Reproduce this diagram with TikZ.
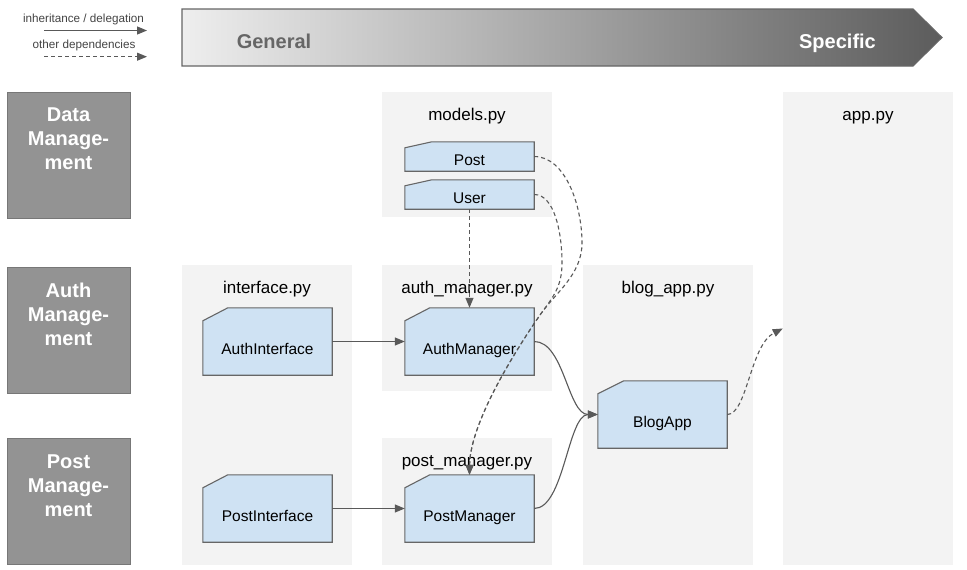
\documentclass[tikz,border=0pt]{standalone}
\usepackage{fontspec}
\setmainfont{Liberation Sans}
\usetikzlibrary{arrows.meta}
\definecolor{clsfill}{HTML}{CFE2F3}
\definecolor{clsline}{HTML}{666666}
\definecolor{panelfill}{HTML}{F3F3F3}
\definecolor{rowfill}{HTML}{939393}
\definecolor{rowline}{HTML}{777777}
\definecolor{conn}{HTML}{595959}
\definecolor{legtext}{HTML}{444444}
\definecolor{bannerL}{HTML}{EEEEEE}
\definecolor{bannerR}{HTML}{5C5C5C}
\newcommand{\clsshape}[3]{% name, cutx, cuty
  \draw[clsborder] (#1.south west) -- (#1.south east) -- (#1.north east)
    -- ([xshift=#2pt]#1.north west) -- ([yshift=-#3pt]#1.north west) -- cycle;}
\begin{document}
\begin{tikzpicture}[x=1pt,y=-1pt,
  panel/.style={fill=panelfill, draw=none, inner sep=0pt},
  paneltitle/.style={anchor=base, inner sep=0pt, font=\fontsize{17}{20}\selectfont},
  rowbox/.style={fill=rowfill, draw=rowline, line width=1pt, minimum width=123pt, minimum height=126pt, inner sep=0pt},
  rowtext/.style={align=center, text=white, inner sep=0pt, font=\bfseries\fontsize{20}{24}\selectfont},
  clsbox/.style={draw=none, fill=none, inner sep=0pt},
  clsborder/.style={fill=clsfill, draw=clsline, line width=1.1pt},
  clstext/.style={anchor=base, inner sep=0pt, font=\fontsize{15.5}{18}\selectfont},
  inh/.style={draw=conn, line width=1.1pt, -{Triangle[length=10pt,width=8pt]}},
  dep/.style={draw=conn, line width=1.1pt, dash pattern=on 4pt off 3pt, -{Triangle[length=10pt,width=8pt]}},
  legtxt/.style={anchor=base, inner sep=0pt, text=legtext, font=\fontsize{11.7}{14}\selectfont}
]
\useasboundingbox (0,0) rectangle (967,570);
\fill[white] (0,0) rectangle (967,570);

% ---------- legend ----------
\node[legtxt] (leginh) at (83.5,22) {inheritance / delegation};
\coordinate (la1) at (44,30.5);
\coordinate (la2) at (147,30.5);
\draw[inh] (la1) -- (la2);
\node[legtxt] (legdep) at (84,48.5) {other dependencies};
\coordinate (lb1) at (44,56.7);
\coordinate (lb2) at (147,56.7);
\draw[dep] (lb1) -- (lb2);

% ---------- banner ----------
\shade[left color=bannerL, right color=bannerR, draw=clsline, line width=1.1pt]
  (182,9) -- (913,9) -- (942,37.5) -- (913,66) -- (182,66) -- cycle;
\node[anchor=base, inner sep=0pt, text=clsline, font=\bfseries\fontsize{20}{24}\selectfont] (gen) at (274,48.3) {General};
\node[anchor=base, inner sep=0pt, text=white, font=\bfseries\fontsize{20}{24}\selectfont] (spec) at (837.5,48.3) {Specific};

% ---------- row labels ----------
\node[rowbox] (rowdata) at (68.5,155) {};
\node[rowtext] at (68.5,139) {Data\\Manage-\\ment};
\node[rowbox] (rowauth) at (68.5,330) {};
\node[rowtext] at (68.5,314) {Auth\\Manage-\\ment};
\node[rowbox] (rowpost) at (68.5,501) {};
\node[rowtext] at (68.5,486) {Post\\Manage-\\ment};

% ---------- panels ----------
\node[panel, minimum width=170pt, minimum height=300pt] (pif) at (267,415) {};
\node[paneltitle] at (267,293) {interface.py};
\node[panel, minimum width=170pt, minimum height=125pt] (pmod) at (467,154.5) {};
\node[paneltitle] at (467,120) {models.py};
\node[panel, minimum width=170pt, minimum height=126pt] (pam) at (467,328) {};
\node[paneltitle] at (467,293) {auth\_manager.py};
\node[panel, minimum width=170pt, minimum height=127pt] (ppm) at (467,501.5) {};
\node[paneltitle] at (467,466) {post\_manager.py};
\node[panel, minimum width=170pt, minimum height=300pt] (pba) at (668,415) {};
\node[paneltitle] at (668,293) {blog\_app.py};
\node[panel, minimum width=170pt, minimum height=473pt] (papp) at (868,328.5) {};
\node[paneltitle] at (868,120) {app.py};

% ---------- classes ----------
\node[clsbox, minimum width=129pt, minimum height=29pt] (post) at (469.5,156.5) {};
\clsshape{post}{27}{6}
\node[clstext] at (469.5,165) {Post};

\node[clsbox, minimum width=129pt, minimum height=29pt] (user) at (469.5,194.5) {};
\clsshape{user}{27}{6}
\node[clstext] at (469.5,203) {User};

\node[clsbox, minimum width=129pt, minimum height=67pt] (ai) at (267.5,341.5) {};
\clsshape{ai}{25}{13}
\node[clstext] at (267.5,354) {AuthInterface};

\node[clsbox, minimum width=129pt, minimum height=67pt] (am) at (469.5,341.5) {};
\clsshape{am}{25}{13}
\node[clstext] at (469.5,354) {AuthManager};

\node[clsbox, minimum width=129pt, minimum height=67pt] (pi) at (267.5,508.5) {};
\clsshape{pi}{25}{13}
\node[clstext] at (267.5,521) {PostInterface};

\node[clsbox, minimum width=129pt, minimum height=67pt] (pm) at (469.5,508.5) {};
\clsshape{pm}{25}{13}
\node[clstext] at (469.5,521) {PostManager};

\node[clsbox, minimum width=129pt, minimum height=67pt] (ba) at (662.5,414.5) {};
\clsshape{ba}{26}{13}
\node[clstext] at (662.5,427.5) {BlogApp};

% ---------- connectors ----------
\draw[inh] (ai.east) -- (am.west);
\draw[inh] (pi.east) -- (pm.west);
\draw[dep] (user.south) -- (am.north);
\draw[inh] (am.east) .. controls +(30,0) and +(-30,0) .. (ba.west);
\draw[inh] (pm.east) .. controls +(30,0) and +(-30,0) .. (ba.west);

\coordinate (pk) at (582,243);
\coordinate (uk) at (562,263);
\coordinate (mg) at (540,315);
\draw[dep] (post.east) .. controls +(31,0) and (582,205) .. (pk)
  .. controls (582,275) and (555,293) .. (mg)
  .. controls (522,341) and (470,420) .. (pm.north);
\draw[dep] (user.east) .. controls +(20,0) and (562,232) .. (uk)
  .. controls (562,287) and (553,297) .. (mg)
  .. controls (522,341) and (470,420) .. (pm.north);

\draw[dep] (ba.east) .. controls +(20,0) and (750,345) .. (papp.west);
\end{tikzpicture}
\end{document}
